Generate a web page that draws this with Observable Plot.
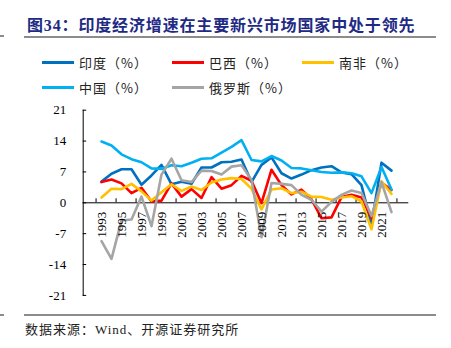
<!DOCTYPE html>
<html>
<head>
<meta charset="utf-8">
<script src="https://cdn.jsdelivr.net/npm/d3@7"></script>
<script src="https://cdn.jsdelivr.net/npm/@observablehq/plot@0.6"></script>
<style>
  html, body { margin: 0; padding: 0; background: #fff; }
  #wrap { position: relative; width: 451px; height: 348px; overflow: hidden; background: #fff; }
  .abs { position: absolute; }
  #title { left: 27px; top: 12px; font: bold 16px "Liberation Serif", "Noto Sans CJK SC", serif; color: #1e2a84; white-space: nowrap; letter-spacing: 0.85px; }
  .rule { height: 1.5px; background: #8c8c8c; }
  #source { left: 25px; top: 319px; font: 13px "Liberation Serif", "Noto Sans CJK SC", serif; color: #222; white-space: nowrap; letter-spacing: 1px; }
  .leg { font: 13px "Noto Sans CJK SC", sans-serif; color: #222; white-space: nowrap; display: flex; align-items: center; letter-spacing: 1px; }
  .sw { display: inline-block; width: 32px; height: 3px; margin-right: 5px; }
  #chart { left: 0; top: 100px; }
</style>
</head>
<body>
<div id="wrap">
  <div id="title" class="abs"></div>
  <div class="abs rule" style="left:24px; top:36px; width:412px;"></div>
  <div class="abs rule" style="left:0px; top:35px; width:4px;"></div>
  <div id="legend"></div>
  <div id="chart" class="abs"></div>
  <div class="abs rule" style="left:24px; top:314px; width:412px;"></div>
  <div class="abs rule" style="left:0px; top:314px; width:4px;"></div>
  <div id="source" class="abs"></div>
</div>
<script>
const titleText = "图34：印度经济增速在主要新兴市场国家中处于领先";
const sourceText = "数据来源：Wind、开源证券研究所";

const years = [1993, 1994, 1995, 1996, 1997, 1998, 1999, 2000, 2001, 2002,
               2003, 2004, 2005, 2006, 2007, 2008, 2009, 2010, 2011, 2012,
               2013, 2014, 2015, 2016, 2017, 2018, 2019, 2020, 2021, 2022];
const labelYears = [1993, 1995, 1997, 1999, 2001, 2003, 2005, 2007, 2009, 2011, 2013, 2015, 2017, 2019, 2021];
const yTicks = [-21, -14, -7, 0, 7, 14, 21];

const seriesNames = ["印度（%）", "巴西（%）", "南非（%）", "中国（%）", "俄罗斯（%）"];
const seriesColors = ["#0070C0", "#FF0000", "#FFC000", "#00B0F0", "#A5A5A5"];

const india  = [4.8, 6.6, 7.6, 7.6, 4.1, 6.2, 8.6, 4.2, 4.8, 4.3, 8.0, 8.0, 9.2, 9.3, 9.8, 4.7, 8.6, 10.3, 6.7, 5.5, 6.4, 7.4, 8.0, 8.3, 6.9, 6.5, 4.0, -5.0, 9.1, 7.3];
const brazil = [4.7, 5.3, 4.4, 2.2, 3.4, 0.3, 0.5, 4.4, 1.4, 3.1, 1.1, 5.8, 3.2, 4.0, 6.1, 5.0, -0.1, 7.5, 4.0, 1.9, 3.0, 0.8, -3.5, -3.3, 1.3, 1.8, 1.2, -3.5, 4.6, 2.9];
const safrica= [1.2, 3.2, 3.1, 4.3, 2.6, 0.5, 2.4, 4.2, 2.7, 3.7, 2.9, 4.6, 5.3, 5.6, 5.4, 3.2, -1.5, 3.0, 3.3, 2.2, 2.5, 1.4, 1.3, 0.7, 1.2, 1.5, 0.3, -6.0, 4.9, 2.0];
const china  = [13.9, 13.0, 11.0, 9.9, 9.2, 7.8, 7.7, 8.5, 8.3, 9.1, 10.0, 10.1, 11.4, 12.7, 14.2, 9.7, 9.4, 10.6, 9.6, 7.9, 7.8, 7.4, 7.0, 6.8, 6.9, 6.7, 6.0, 2.2, 8.1, 3.0];
const russia = [-8.7, -12.7, -4.0, -3.8, 1.4, -5.3, 6.4, 10.0, 5.1, 4.7, 7.3, 7.2, 6.4, 8.2, 8.5, 5.2, -7.8, 4.5, 4.3, 4.0, 1.8, 0.7, -2.0, 0.2, 1.8, 2.8, 2.2, -3.0, 4.7, -2.1];

const seriesValues = [india, brazil, safrica, china, russia];

const rows = [];
seriesValues.forEach((vals, s) => {
  vals.forEach((v, i) => rows.push({series: seriesNames[s], year: years[i], value: v}));
});

document.getElementById("title").textContent = titleText;
document.getElementById("source").textContent = sourceText;

const legend = document.getElementById("legend");
const legPos = [[42, 53], [172, 53], [302, 53], [42, 78], [172, 78]];
seriesNames.forEach((name, i) => {
  const d = document.createElement("div");
  d.className = "abs leg";
  d.style.left = legPos[i][0] + "px";
  d.style.top = legPos[i][1] + "px";
  d.style.height = "18px";
  const sw = document.createElement("span");
  sw.className = "sw";
  sw.style.background = seriesColors[i];
  d.appendChild(sw);
  const t = document.createElement("span");
  t.textContent = name;
  d.appendChild(t);
  legend.appendChild(d);
});

const W = 451, H = 205;
const mL = 82.7, mR = 42.7, mT = 9.7, mB = 10.1;
const innerW = W - mL - mR;
const innerH = H - mT - mB;
const step = innerW / years.length;
const zeroFrac = (21 - 0) / 42;
const tickLen = 4;

const plot = Plot.plot({
  width: W,
  height: H,
  marginLeft: mL,
  marginRight: mR,
  marginTop: mT,
  marginBottom: mB,
  style: {fontFamily: "'Liberation Serif', serif", fontSize: "13px", color: "#000", background: "transparent", overflow: "visible"},
  x: {type: "point", domain: years, padding: 0.5, axis: null},
  y: {domain: [-21, 21], axis: null},
  color: {domain: seriesNames, range: seriesColors},
  marks: [
    Plot.axisY(yTicks, {tickSize: 0, tickPadding: 17, tickFormat: d => String(d), fontSize: 13, fill: "#000", label: null}),
    Plot.ruleY(yTicks, {y: d => d, stroke: "#000", strokeWidth: 1, insetRight: innerW - 3.5}),
    Plot.frame({anchor: "left", stroke: "#000", strokeWidth: 1}),
    Plot.ruleY([0], {stroke: "#000", strokeWidth: 1}),
    Plot.ruleX(labelYears, {x: d => d, dx: -step / 2, stroke: "#000", strokeWidth: 1,
      insetTop: innerH * zeroFrac - tickLen, insetBottom: innerH * (1 - zeroFrac)}),
    Plot.ruleX([years[years.length - 1]], {x: d => d, dx: step / 2, stroke: "#000", strokeWidth: 1,
      insetTop: innerH * zeroFrac - tickLen, insetBottom: innerH * (1 - zeroFrac)}),
    Plot.line(rows, {x: "year", y: "value", z: "series", stroke: "series", strokeWidth: 2.6,
      strokeLinejoin: "round", strokeLinecap: "round"}),
    Plot.text(labelYears, {x: d => d, y: () => 0, text: d => String(d), rotate: -90,
      textAnchor: "end", dy: 9, fontSize: 13, fill: "#000"})
  ]
});
document.getElementById("chart").appendChild(plot);
</script>
</body>
</html>
